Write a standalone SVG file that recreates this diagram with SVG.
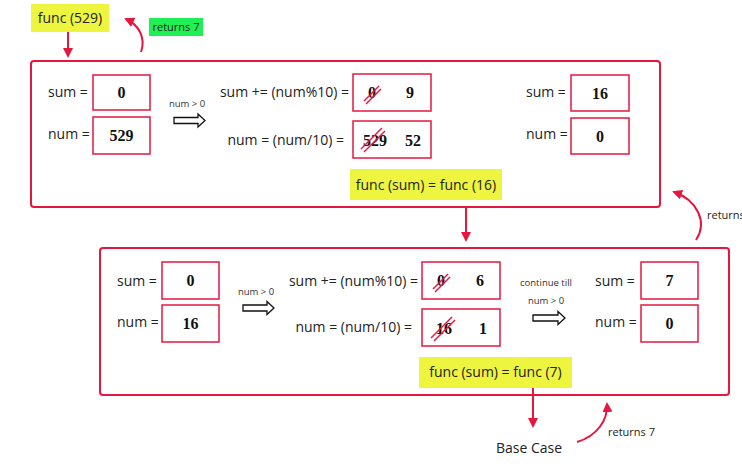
<svg xmlns="http://www.w3.org/2000/svg" width="742" height="473" viewBox="0 0 742 473">
<defs>
<style>
.frame{fill:#fff;stroke:#e5173f;stroke-width:2}
.vbox{fill:#fff;stroke:#e5173f;stroke-width:1.5}
.lbl{font-family:"Open Sans","Noto Sans",sans-serif;font-size:14px;fill:#222}
.sm{font-family:"Open Sans","Noto Sans",sans-serif;font-size:9.5px;fill:#333}
.ret{font-family:"Open Sans","Noto Sans",sans-serif;font-size:11px;fill:#222}
.val{font-family:"Liberation Serif","DejaVu Serif",serif;font-size:16px;font-weight:bold;fill:#111}
.hl{fill:#eef53e}
.conn{fill:none;stroke:#e5173f;stroke-width:2}
.strike{stroke:#e5173f;stroke-width:1.5}
.dbl{fill:#fff;stroke:#111;stroke-width:1.3}
</style>
<marker id="ah" viewBox="0 0 10 10" refX="8" refY="5" markerWidth="5" markerHeight="5" orient="auto">
<path d="M0,0 L10,5 L0,10 z" fill="#e5173f"/>
</marker>
</defs>

<g id="call-label">
<rect class="hl" x="31" y="4" width="78" height="28"/>
<text class="lbl" x="70" y="23" text-anchor="middle" font-size="15">func (529)</text>
</g>
<g id="returns-top">
<rect x="149" y="18" width="54" height="18" fill="#1ef055"/>
<text class="ret" x="176" y="31" text-anchor="middle">returns 7</text>
</g>

<g id="frame1">
<rect class="frame" x="31" y="61" width="629" height="146" rx="3"/>
<text class="lbl" x="48" y="97">sum =</text>
<rect class="vbox" x="93" y="75" width="57" height="35"/>
<text class="val" x="121.5" y="98" text-anchor="middle">0</text>
<text class="lbl" x="48" y="139">num =</text>
<rect class="vbox" x="93" y="117" width="57" height="37"/>
<text class="val" x="121.5" y="141" text-anchor="middle">529</text>
<text class="sm" x="187" y="107" text-anchor="middle">num &gt; 0</text>
<path class="dbl" d="M174,117.5 H198 V114 L205,120.5 L198,127 V123.5 H174 Z"/>
<text class="lbl" x="349" y="97" text-anchor="end">sum += (num%10) =</text>
<rect class="vbox" x="353" y="74" width="78" height="37"/>
<text class="val" x="372" y="98" text-anchor="middle">0</text>
<line class="strike" x1="364" y1="101" x2="379" y2="86"/>
<line class="strike" x1="366" y1="104" x2="381" y2="89"/>
<text class="val" x="410" y="98" text-anchor="middle">9</text>
<text class="lbl" x="344" y="145" text-anchor="end">num = (num/10) =</text>
<rect class="vbox" x="353" y="121" width="78" height="37"/>
<text class="val" x="375" y="146" text-anchor="middle">529</text>
<line class="strike" x1="361" y1="149" x2="382" y2="128"/>
<line class="strike" x1="364" y1="152" x2="385" y2="131"/>
<text class="val" x="413" y="146" text-anchor="middle">52</text>
<rect class="hl" x="350" y="169" width="152" height="31"/>
<text class="lbl" x="426" y="190" text-anchor="middle">func (sum) = func (16)</text>
<text class="lbl" x="526" y="97">sum =</text>
<rect class="vbox" x="571" y="75" width="58" height="36"/>
<text class="val" x="600" y="99" text-anchor="middle">16</text>
<text class="lbl" x="526" y="139">num =</text>
<rect class="vbox" x="571" y="118" width="58" height="36"/>
<text class="val" x="600" y="142" text-anchor="middle">0</text>
</g>

<g id="frame2">
<rect class="frame" x="100" y="248" width="629" height="147" rx="3"/>
<text class="lbl" x="117" y="286">sum =</text>
<rect class="vbox" x="162" y="262" width="57" height="37"/>
<text class="val" x="190.5" y="286" text-anchor="middle">0</text>
<text class="lbl" x="117" y="327">num =</text>
<rect class="vbox" x="162" y="305" width="57" height="37"/>
<text class="val" x="190.5" y="329" text-anchor="middle">16</text>
<text class="sm" x="256" y="295" text-anchor="middle">num &gt; 0</text>
<path class="dbl" d="M243,305 H267 V301.5 L274,308 L267,314.5 V311 H243 Z"/>
<text class="lbl" x="418" y="286" text-anchor="end">sum += (num%10) =</text>
<rect class="vbox" x="422" y="262" width="78" height="37"/>
<text class="val" x="441" y="286" text-anchor="middle">0</text>
<line class="strike" x1="433" y1="289" x2="448" y2="274"/>
<line class="strike" x1="435" y1="292" x2="450" y2="277"/>
<text class="val" x="480" y="286" text-anchor="middle">6</text>
<text class="lbl" x="412" y="332" text-anchor="end">num = (num/10) =</text>
<rect class="vbox" x="422" y="309" width="78" height="37"/>
<text class="val" x="444" y="334" text-anchor="middle">16</text>
<line class="strike" x1="431" y1="338" x2="452" y2="317"/>
<line class="strike" x1="434" y1="341" x2="455" y2="320"/>
<text class="val" x="483" y="334" text-anchor="middle">1</text>
<text class="sm" x="546" y="286" text-anchor="middle">continue till</text>
<text class="sm" x="546" y="304" text-anchor="middle">num &gt; 0</text>
<path class="dbl" d="M533,315 H558 V311.5 L565,318 L558,324.5 V321 H533 Z"/>
<text class="lbl" x="595" y="286">sum =</text>
<rect class="vbox" x="641" y="262" width="57" height="37"/>
<text class="val" x="669.5" y="286" text-anchor="middle">7</text>
<text class="lbl" x="595" y="327">num =</text>
<rect class="vbox" x="641" y="305" width="57" height="37"/>
<text class="val" x="669.5" y="329" text-anchor="middle">0</text>
<rect class="hl" x="419" y="357" width="153" height="31"/>
<text class="lbl" x="495.5" y="377" text-anchor="middle">func (sum) = func (7)</text>
</g>

<g id="base-case">
<text class="lbl" x="529" y="453" text-anchor="middle">Base Case</text>
</g>
<g id="returns-labels">
<text class="ret" x="707" y="219">returns 7</text>
<text class="ret" x="608" y="436">returns 7</text>
</g>

<g id="connectors">
<path class="conn" d="M68,32 V56" marker-end="url(#ah)"/>
<path class="conn" d="M141,52 C146,38 139,25 126,19" marker-end="url(#ah)"/>
<path class="conn" d="M466,208 V240" marker-end="url(#ah)"/>
<path class="conn" d="M696,240 C708,222 697,200 674,192" marker-end="url(#ah)"/>
<path class="conn" d="M533,388 V426" marker-end="url(#ah)"/>
<path class="conn" d="M577,442 C597,436 608,420 607,404" marker-end="url(#ah)"/>
</g>
</svg>
